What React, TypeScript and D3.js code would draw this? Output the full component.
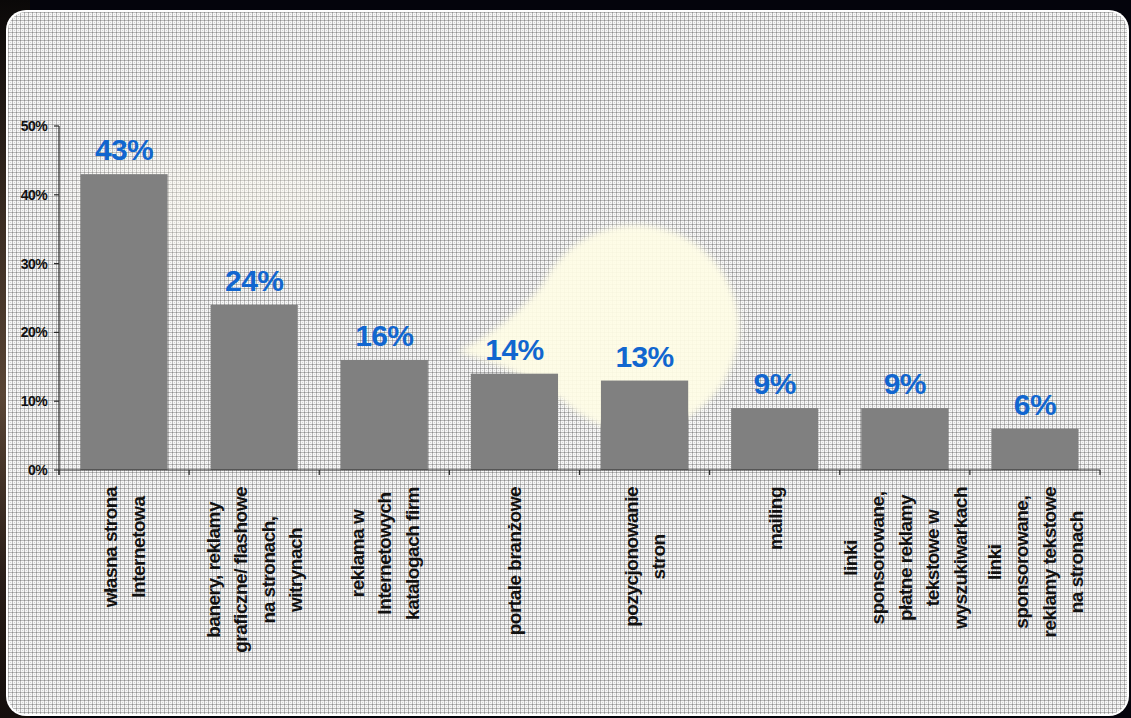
import React, { useEffect, useRef } from "react";
import * as d3 from "d3";

const categoryLines: string[][] = [
  ["własna strona", "Internetowa"],
  ["banery, reklamy", "graficzne/ flashowe", "na stronach,", "witrynach"],
  ["reklama w", "Internetowych", "katalogach firm"],
  ["portale branżowe"],
  ["pozycjonowanie", "stron"],
  ["mailing"],
  ["linki", "sponsorowane,", "płatne reklamy", "tekstowe w", "wyszukiwarkach"],
  ["linki", "sponsorowane,", "reklamy tekstowe", "na stronach"],
];
const values: number[] = [43, 24, 16, 14, 13, 9, 9, 6];
const yTicks: number[] = [0, 10, 20, 30, 40, 50];

const W = 1131;
const H = 718;
const FONT = "'Liberation Sans', Arial, Helvetica, sans-serif";

export default function App() {
  const ref = useRef<SVGSVGElement | null>(null);

  useEffect(() => {
    const svg = d3.select(ref.current);
    svg.selectAll("*").remove();

    const defs = svg.append("defs");
    const P = 4;
    const pat = defs
      .append("pattern")
      .attr("id", "grid")
      .attr("width", P)
      .attr("height", P)
      .attr("patternUnits", "userSpaceOnUse");
    pat.append("rect").attr("width", P).attr("height", P).attr("fill", "#f6f6f6");
    pat.append("rect").attr("x", 0).attr("y", 0).attr("width", 1).attr("height", P).attr("fill", "#b8b8b8");
    pat.append("rect").attr("x", 0).attr("y", 0).attr("width", P).attr("height", 1).attr("fill", "#b8b8b8");
    pat.append("rect").attr("x", 0).attr("y", 0).attr("width", 1).attr("height", 1).attr("fill", "#909090");
    pat.append("rect").attr("x", 2).attr("y", 2).attr("width", 1).attr("height", 1).attr("fill", "#d4d4d4");

    const lg = defs
      .append("linearGradient")
      .attr("id", "leftbg")
      .attr("x1", 0)
      .attr("y1", 0)
      .attr("x2", 0)
      .attr("y2", 1);
    lg.append("stop").attr("offset", "0%").attr("stop-color", "#0a0808");
    lg.append("stop").attr("offset", "30%").attr("stop-color", "#3a2c22");
    lg.append("stop").attr("offset", "55%").attr("stop-color", "#5a4636");
    lg.append("stop").attr("offset", "80%").attr("stop-color", "#2a1e18");
    lg.append("stop").attr("offset", "100%").attr("stop-color", "#140e0c");

    const blur = defs.append("filter").attr("id", "blur").attr("x", "-50%").attr("y", "-50%").attr("width", "200%").attr("height", "200%");
    blur.append("feGaussianBlur").attr("stdDeviation", 3);
    const blur2 = defs.append("filter").attr("id", "blur2").attr("x", "-50%").attr("y", "-50%").attr("width", "200%").attr("height", "200%");
    blur2.append("feGaussianBlur").attr("stdDeviation", 25);

    // backdrop
    svg.append("rect").attr("width", W).attr("height", H).attr("fill", "#04040c");
    svg.append("rect").attr("x", 0).attr("y", 0).attr("width", 30).attr("height", H).attr("fill", "url(#leftbg)");

    // panel
    svg
      .append("rect")
      .attr("x", 6)
      .attr("y", 10)
      .attr("width", 1123)
      .attr("height", 706)
      .attr("rx", 20)
      .attr("fill", "#ffffff");
    svg
      .append("rect")
      .attr("x", 8)
      .attr("y", 12)
      .attr("width", 1119)
      .attr("height", 702)
      .attr("rx", 18)
      .attr("fill", "url(#grid)");

    // soft glow
    svg
      .append("ellipse")
      .attr("cx", 220)
      .attr("cy", 200)
      .attr("rx", 140)
      .attr("ry", 50)
      .attr("fill", "#fffbea")
      .attr("opacity", 0.35)
      .attr("filter", "url(#blur2)");

    // yellow speech bubble
    const bubble = svg.append("g").attr("filter", "url(#blur)").attr("opacity", 0.93);
    bubble.append("circle").attr("cx", 636).attr("cy", 328).attr("r", 103).attr("fill", "#fffde6");
    bubble
      .append("path")
      .attr("d", "M 560 262 Q 520 320 458 352 Q 520 368 560 400 Z")
      .attr("fill", "#fffde6");

    const plotLeft = 59;
    const plotRight = 1100;
    const idx = values.map((_, i) => i);
    const x = d3
      .scaleBand<number>()
      .domain(idx)
      .range([plotLeft, plotRight])
      .paddingInner(0.33)
      .paddingOuter(0.165);
    const y = d3.scaleLinear().domain([0, 50]).range([470, 126]);
    const step = x.step();

    // bars
    svg
      .append("g")
      .selectAll("rect")
      .data(values)
      .join("rect")
      .attr("x", (_, i) => x(i) as number)
      .attr("y", (d) => y(d))
      .attr("width", x.bandwidth())
      .attr("height", (d) => y(0) - y(d))
      .attr("fill", "#808080");

    // y axis
    const axisColor = "#2a2a2a";
    svg
      .append("line")
      .attr("x1", plotLeft)
      .attr("x2", plotLeft)
      .attr("y1", y(50))
      .attr("y2", y(0) + 5)
      .attr("stroke", axisColor)
      .attr("stroke-width", 1.2);
    const yt = svg.append("g");
    yt.selectAll("line")
      .data(yTicks)
      .join("line")
      .attr("x1", plotLeft - 5)
      .attr("x2", plotLeft)
      .attr("y1", (d) => y(d))
      .attr("y2", (d) => y(d))
      .attr("stroke", axisColor)
      .attr("stroke-width", 1.2);
    yt.selectAll("text")
      .data(yTicks)
      .join("text")
      .attr("x", 47)
      .attr("y", (d) => y(d))
      .attr("dy", "0.36em")
      .attr("text-anchor", "end")
      .attr("font-family", FONT)
      .attr("font-weight", "bold")
      .attr("font-size", 14)
      .attr("letter-spacing", -0.6)
      .attr("fill", "#111")
      .text((d) => `${d}%`);

    // x axis
    svg
      .append("line")
      .attr("x1", plotLeft)
      .attr("x2", plotRight)
      .attr("y1", y(0))
      .attr("y2", y(0))
      .attr("stroke", axisColor)
      .attr("stroke-width", 1.2);
    svg
      .append("g")
      .selectAll("line")
      .data(d3.range(values.length + 1))
      .join("line")
      .attr("x1", (i) => plotLeft + i * step)
      .attr("x2", (i) => plotLeft + i * step)
      .attr("y1", y(0))
      .attr("y2", y(0) + 5)
      .attr("stroke", axisColor)
      .attr("stroke-width", 1.2);

    // value labels
    svg
      .append("g")
      .selectAll("text")
      .data(values)
      .join("text")
      .attr("x", (_, i) => (x(i) as number) + x.bandwidth() / 2)
      .attr("y", (d) => y(d) - 14)
      .attr("text-anchor", "middle")
      .attr("font-family", FONT)
      .attr("font-weight", "bold")
      .attr("font-size", 30)
      .attr("letter-spacing", -0.6)
      .attr("fill", "#1166cf")
      .text((d) => `${d}%`);

    // category labels (rotated)
    const fs = 19;
    const lh = 27.5;
    const topY = 487;
    categoryLines.forEach((lines, i) => {
      const cx = (x(i) as number) + x.bandwidth() / 2;
      const g = svg.append("g").attr("transform", `translate(${cx},${topY}) rotate(-90)`);
      const texts = g
        .selectAll("text")
        .data(lines)
        .join("text")
        .attr("font-family", FONT)
        .attr("font-weight", "bold")
        .attr("font-size", fs)
        .attr("letter-spacing", -0.5)
        .attr("fill", "#111")
        .attr("text-anchor", "middle")
        .attr("y", (_, k) => (k - (lines.length - 1) / 2) * lh + fs * 0.36)
        .text((d) => d);
      let maxLen = 0;
      texts.each(function () {
        const l = (this as SVGTextElement).getComputedTextLength();
        if (l > maxLen) maxLen = l;
      });
      texts.attr("x", -maxLen / 2);
    });
  }, []);

  return (
    <svg
      ref={ref}
      width={W}
      height={H}
      style={{ position: "absolute", left: 0, top: 0, display: "block" }}
    />
  );
}
